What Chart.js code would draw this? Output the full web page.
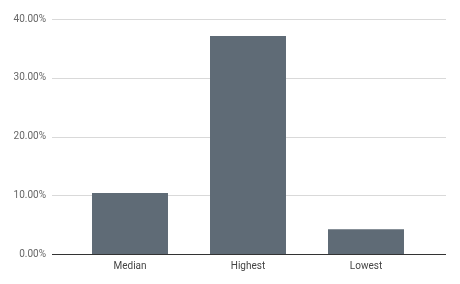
<!DOCTYPE html>
<html>
<head>
<meta charset="utf-8">
<script src="https://cdn.jsdelivr.net/npm/chart.js@4"></script>
<style>
  html, body { margin: 0; padding: 0; background: #fff; }
  #wrap { width: 460px; height: 284px; }
</style>
</head>
<body>
<div id="wrap"><canvas id="rateChart"></canvas></div>
<script>
// values
const categories = ['Median', 'Highest', 'Lowest'];
const rates = [10.4, 37.1, 4.2];
const yTicks = [0, 10, 20, 30, 40];

// google-sheets style: grid lines run wider than the bar area
const wideGrid = {
  id: 'wideGrid',
  beforeDatasetsDraw(chart) {
    const { ctx, chartArea, scales } = chart;
    const x0 = chartArea.left - 19, x1 = chartArea.right + 21;
    ctx.save();
    yTicks.forEach(v => {
      const y = Math.round(scales.y.getPixelForValue(v)) + 0.5;
      ctx.strokeStyle = v === 0 ? '#333333' : '#d9d9d9';
      ctx.lineWidth = 1;
      ctx.beginPath();
      ctx.moveTo(x0, y);
      ctx.lineTo(x1, y);
      ctx.stroke();
    });
    ctx.restore();
  }
};

new Chart(document.getElementById('rateChart'), {
  type: 'bar',
  data: {
    labels: categories,
    datasets: [{
      data: rates,
      backgroundColor: '#5f6b76',
      barPercentage: 0.644,
      categoryPercentage: 1
    }]
  },
  options: {
    responsive: true,
    maintainAspectRatio: false,
    animation: false,
    layout: { padding: { top: 19, right: 35, left: 0, bottom: 0 } },
    plugins: { legend: { display: false }, tooltip: { enabled: false } },
    font: { family: 'Roboto' },
    scales: {
      x: {
        grid: { display: false },
        border: { display: false },
        ticks: { color: '#444', font: { family: 'Roboto', size: 10 }, padding: -2 },
        afterFit: s => { s.height = 30; s.paddingLeft = 0; s.paddingRight = 0; }
      },
      y: {
        min: 0, max: 40,
        grid: { display: false },
        border: { display: false },
        ticks: {
          stepSize: 10,
          padding: 17,
          color: '#666',
          font: { family: 'Roboto', size: 10 },
          callback: v => v.toFixed(2) + '%'
        },
        afterFit: s => { s.width = 71; s.paddingTop = 0; s.paddingBottom = 0; }
      }
    }
  },
  plugins: [wideGrid]
});
</script>
</body>
</html>
